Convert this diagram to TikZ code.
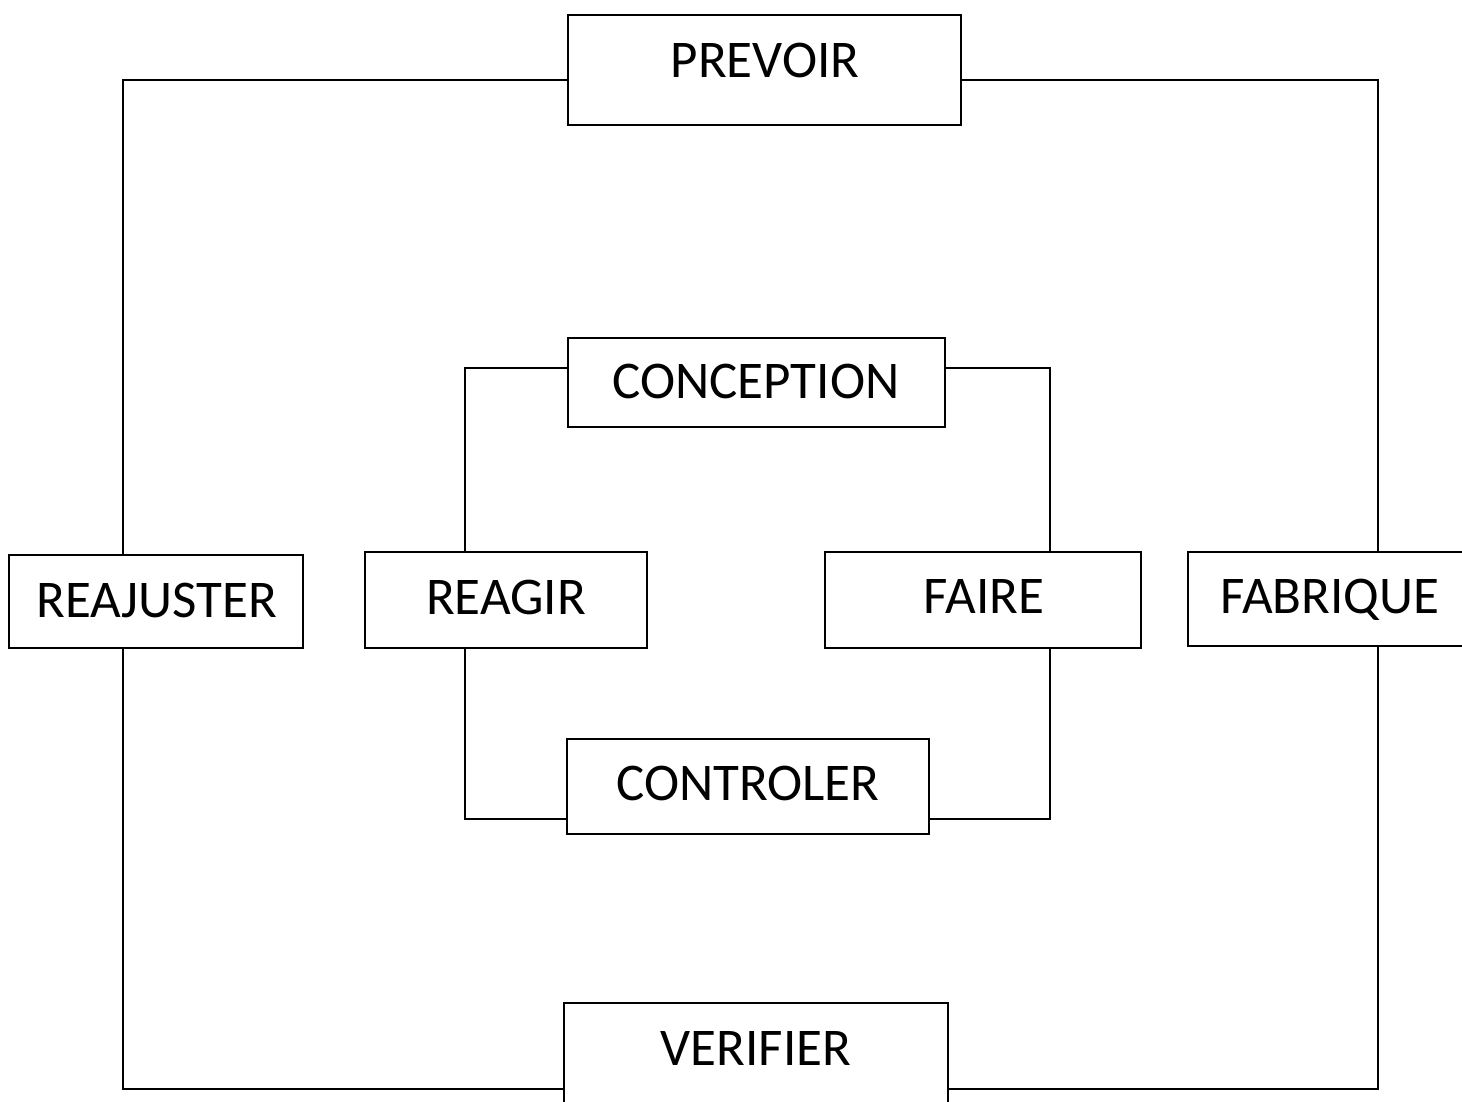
\documentclass[tikz,border=0pt]{standalone}
\usepackage{fontspec}
\setmainfont{Carlito}
\begin{document}
\begin{tikzpicture}[x=1pt,y=-1pt,line width=2pt,
  box/.style={draw,rectangle,inner sep=0pt,outer sep=0pt},
  lbl/.style={anchor=base,inner sep=0pt,font=\fontsize{53}{60}\selectfont},
  link/.style={draw,line width=2pt}]
\useasboundingbox (0,0) rectangle (1462,1102);
\clip (0,0) rectangle (1462,1102);
% boxes
\node[box,minimum width=393pt,minimum height=110pt] (prevoir) at (764.5,70) {};
\node[box,minimum width=377pt,minimum height=89pt] (conception) at (756.5,382) {};
\node[box,minimum width=294pt,minimum height=93pt] (reajuster) at (156,601.5) {};
\node[box,minimum width=282pt,minimum height=96pt] (reagir) at (506,600) {};
\node[box,minimum width=316pt,minimum height=96pt] (faire) at (983,600) {};
\node[box,minimum width=284pt,minimum height=94pt] (fabrique) at (1330,599) {};
\node[box,minimum width=362pt,minimum height=95pt] (controler) at (748,786.5) {};
\node[box,minimum width=384pt,minimum height=110pt] (verifier) at (756,1058) {};
% labels
\node[lbl] (tprevoir) at (765,78) {PREVOIR};
\node[lbl] (tconception) at (756,398) {CONCEPTION};
\node[lbl] (treajuster) at (157,617) {REAJUSTER};
\node[lbl] (treagir) at (506,614) {REAGIR};
\node[lbl] (tfaire) at (984,613) {FAIRE};
\node[lbl] (tfabrique) at (1330,613) {FABRIQUE};
\node[lbl] (tcontroler) at (748,800) {CONTROLER};
\node[lbl] (tverifier) at (756,1065) {VERIFIER};
% outer loop
\draw[link] (prevoir.west |- 0,80) -| (reajuster.north -| 123,0);
\draw[link] (reajuster.south -| 123,0) |- (verifier.west |- 0,1089);
\draw[link] (verifier.east |- 0,1089) -| (fabrique.south -| 1378,0);
\draw[link] (fabrique.north -| 1378,0) |- (prevoir.east |- 0,80);
% inner loop
\draw[link] (conception.west |- 0,368) -| (reagir.north -| 465,0);
\draw[link] (reagir.south -| 465,0) |- (controler.west |- 0,819);
\draw[link] (controler.east |- 0,819) -| (faire.south -| 1050,0);
\draw[link] (faire.north -| 1050,0) |- (conception.east |- 0,368);
\end{tikzpicture}
\end{document}
